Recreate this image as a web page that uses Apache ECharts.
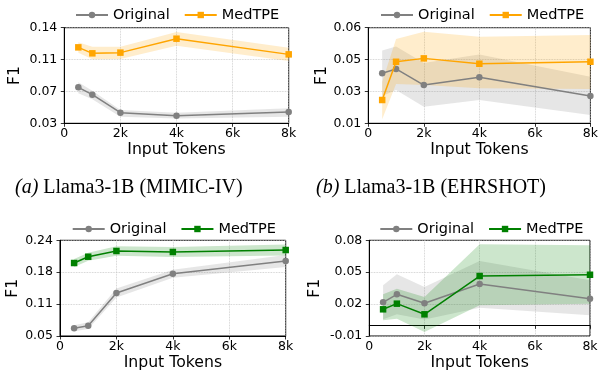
<!DOCTYPE html>
<html>
<head>
<meta charset="utf-8">
<script src="https://cdn.jsdelivr.net/npm/echarts@6/dist/echarts.min.js"></script>
<style>
html,body{margin:0;padding:0;background:#fff;}
#chart{width:601px;height:372px;}
</style>
</head>
<body>
<div id="chart"></div>
<script>
// ---------- data ----------
const xValues = [500, 1000, 2000, 4000, 8000];
const xTickLabels = ['0', '2k', '4k', '6k', '8k'];

// (a) Llama3-1B (MIMIC-IV)
const aYTicks = ['0.03', '0.07', '0.11', '0.14'];
const aYRange = [0.032, 0.1424];
const aOrigMean = [0.0735, 0.0651, 0.0443, 0.0408, 0.0451];
const aOrigLow  = [0.0666, 0.0597, 0.0397, 0.0374, 0.0397];
const aOrigHigh = [0.0793, 0.0697, 0.0474, 0.0443, 0.0493];
const aMedMean  = [0.1197, 0.1128, 0.1136, 0.1297, 0.1116];
const aMedLow   = [0.1136, 0.1059, 0.1062, 0.1216, 0.1039];
const aMedHigh  = [0.1255, 0.1205, 0.1205, 0.1374, 0.1193];

// (b) Llama3-1B (EHRSHOT)
const bYTicks = ['0.01', '0.03', '0.05', '0.06'];
const bYRange = [0.0145, 0.0625];
const bOrigMean = [0.0396, 0.0418, 0.0337, 0.0376, 0.0282];
const bOrigLow  = [0.0282, 0.0312, 0.0228, 0.0262, 0.0187];
const bOrigHigh = [0.0510, 0.0530, 0.0448, 0.0491, 0.0379];
const bMedMean  = [0.0262, 0.0454, 0.0471, 0.0444, 0.0454];
const bMedLow   = [0.0165, 0.0342, 0.0337, 0.0321, 0.0317];
const bMedHigh  = [0.0352, 0.0568, 0.0605, 0.0580, 0.0588];

// (c)
const cYTicks = ['0.05', '0.11', '0.18', '0.24'];
const cYRange = [0.05, 0.24];
const cOrigMean = [0.0653, 0.0705, 0.1354, 0.1737, 0.1989];
const cOrigLow  = [0.0593, 0.0639, 0.1264, 0.1657, 0.1869];
const cOrigHigh = [0.0713, 0.0771, 0.1444, 0.1817, 0.2109];
const cMedMean  = [0.1949, 0.2074, 0.2188, 0.2168, 0.2207];
const cMedLow   = [0.1869, 0.1994, 0.2095, 0.2068, 0.2097];
const cMedHigh  = [0.2029, 0.2154, 0.2281, 0.2268, 0.2317];

// (d)
const dYTicks = ['-0.01', '0.02', '0.05', '0.08'];
const dYRange = [-0.01, 0.08];
const dOrigMean = [0.0217, 0.0292, 0.0208, 0.0389, 0.0251];
const dOrigLow  = [0.0057, 0.0104, 0.0055, 0.0166, 0.0095];
const dOrigHigh = [0.0377, 0.0480, 0.0361, 0.0605, 0.0424];
const dMedMean  = [0.0151, 0.0204, 0.0104, 0.0464, 0.0476];
const dMedLow   = [0.0048, 0.0063, -0.0062, 0.0189, 0.0204];
const dMedHigh  = [0.0292, 0.0345, 0.0267, 0.0762, 0.0753];

const captionA = 'Llama3-1B (MIMIC-IV)';
const captionB = 'Llama3-1B (EHRSHOT)';

// ---------- styling / layout ----------
const FONT = 'DejaVu Sans';
const GRAY = '#808080', ORANGE = '#FFA500', GREEN = '#008000';

const panels = [
  {key:'a', grid:{left:64.3, top:27.7, width:224.4, height:95.6}, yr:aYRange, yt:aYTicks, nameGap:41,
   legend:{left:75, top:7.5}, med:ORANGE,
   om:aOrigMean, ol:aOrigLow, oh:aOrigHigh, mm:aMedMean, ml:aMedLow, mh:aMedHigh},
  {key:'b', grid:{left:368.3, top:27.7, width:225, height:95.6}, yr:bYRange, yt:bYTicks, nameGap:38,
   legend:{left:380, top:7.5}, med:ORANGE,
   om:bOrigMean, ol:bOrigLow, oh:bOrigHigh, mm:bMedMean, ml:bMedLow, mh:bMedHigh},
  {key:'c', grid:{left:60, top:240.3, width:225.7, height:95.7}, yr:cYRange, yt:cYTicks, nameGap:37,
   legend:{left:71.7, top:221.5}, med:GREEN,
   om:cOrigMean, ol:cOrigLow, oh:cOrigHigh, mm:cMedMean, ml:cMedLow, mh:cMedHigh},
  {key:'d', grid:{left:369.3, top:240.3, width:220.7, height:95.7}, yr:dYRange, yt:dYTicks, nameGap:46,
   legend:{left:379.3, top:221.5}, med:GREEN,
   om:dOrigMean, ol:dOrigLow, oh:dOrigHigh, mm:dMedMean, ml:dMedLow, mh:dMedHigh}
];

const grids = [], xAxes = [], yAxes = [], legends = [], series = [];

function pairs(arr) { return xValues.map((x, i) => [x, arr[i]]); }

panels.forEach((p, gi) => {
  grids.push(Object.assign({show:true, borderColor:'#000', borderWidth:1, backgroundColor:'transparent'}, p.grid));
  xAxes.push({
    type:'value', gridIndex:gi, min:0, max:8000, interval:2000,
    name:'Input Tokens', nameLocation:'middle', nameGap:19,
    nameTextStyle:{fontFamily:FONT, fontSize:15.7, color:'#000'},
    axisLine:{show:true, lineStyle:{color:'#000', width:1}},
    axisTick:{show:true, length:3.5, lineStyle:{color:'#000', width:0.8}},
    axisLabel:{fontFamily:FONT, fontSize:12.5, color:'#000', margin:4,
      formatter:(v) => xTickLabels[Math.round(v / 2000)]},
    splitLine:{show:true, lineStyle:{color:'#c4c4c4', type:'dotted', width:0.8}}
  });
  const step = (p.yr[1] - p.yr[0]) / 3;
  yAxes.push({
    type:'value', gridIndex:gi, min:p.yr[0], max:p.yr[1], interval:step,
    name:'F1', nameLocation:'middle', nameGap:p.nameGap, nameRotate:90,
    nameTextStyle:{fontFamily:FONT, fontSize:15.7, color:'#000'},
    axisLine:{show:true, lineStyle:{color:'#000', width:1}},
    axisTick:{show:true, length:3.5, lineStyle:{color:'#000', width:0.8}},
    axisLabel:{fontFamily:FONT, fontSize:12.5, color:'#000', margin:7,
      formatter:(v) => p.yt[Math.round((v - p.yr[0]) / step)]},
    splitLine:{show:true, lineStyle:{color:'#c4c4c4', type:'dotted', width:0.8}}
  });
  const oName = 'Original_' + p.key, mName = 'MedTPE_' + p.key;
  legends.push({
    data:[oName, mName], left:p.legend.left, top:p.legend.top, padding:0,
    itemWidth:32, itemHeight:8, itemGap:14, orient:'horizontal',
    formatter:(n) => n.split('_')[0],
    textStyle:{fontFamily:FONT, fontSize:14.5, color:'#000'}
  });
  const band = (id, lo, hi, color) => ({
    name:id, type:'custom', xAxisIndex:gi, yAxisIndex:gi, silent:true, z:1,
    data:xValues.map((x, i) => [x, lo[i], hi[i]]),
    encode:{x:0, y:[1, 2]},
    renderItem:(params, api) => {
      if (params.dataIndex !== 0) return null;
      const top = [], bot = [];
      xValues.forEach((x, i) => {
        top.push(api.coord([x, hi[i]]));
        bot.unshift(api.coord([x, lo[i]]));
      });
      return {type:'polygon', shape:{points:top.concat(bot)},
              style:{fill:color, opacity:0.2, stroke:null}};
    }
  });
  series.push(band('bo' + p.key, p.ol, p.oh, GRAY));
  series.push(band('bm' + p.key, p.ml, p.mh, p.med));
  series.push({name:oName, type:'line', xAxisIndex:gi, yAxisIndex:gi, data:pairs(p.om),
    symbol:'circle', symbolSize:6.5, lineStyle:{color:GRAY, width:1.5}, itemStyle:{color:GRAY}, z:3});
  series.push({name:mName, type:'line', xAxisIndex:gi, yAxisIndex:gi, data:pairs(p.mm),
    symbol:'rect', symbolSize:6.5, lineStyle:{color:p.med, width:1.5}, itemStyle:{color:p.med}, z:4});
});

const capStyle = {fontFamily:'Liberation Serif', fontSize:20, fontWeight:'normal', color:'#000',
  rich:{i:{fontFamily:'Liberation Serif', fontSize:20, fontStyle:'italic', color:'#000'},
        t:{fontFamily:'Liberation Serif', fontSize:20, color:'#000'}}};

const option = {
  animation:false,
  backgroundColor:'#fff',
  title:[
    {text:'{i|(a)} {t|' + captionA + '}', left:15, top:178, padding:0, textStyle:capStyle},
    {text:'{i|(b)} {t|' + captionB + '}', left:316, top:178, padding:0, textStyle:capStyle}
  ],
  grid:grids, xAxis:xAxes, yAxis:yAxes, legend:legends, series:series
};

const chart = echarts.init(document.getElementById('chart'), null, {renderer:'canvas'});
chart.setOption(option);
</script>
</body>
</html>
